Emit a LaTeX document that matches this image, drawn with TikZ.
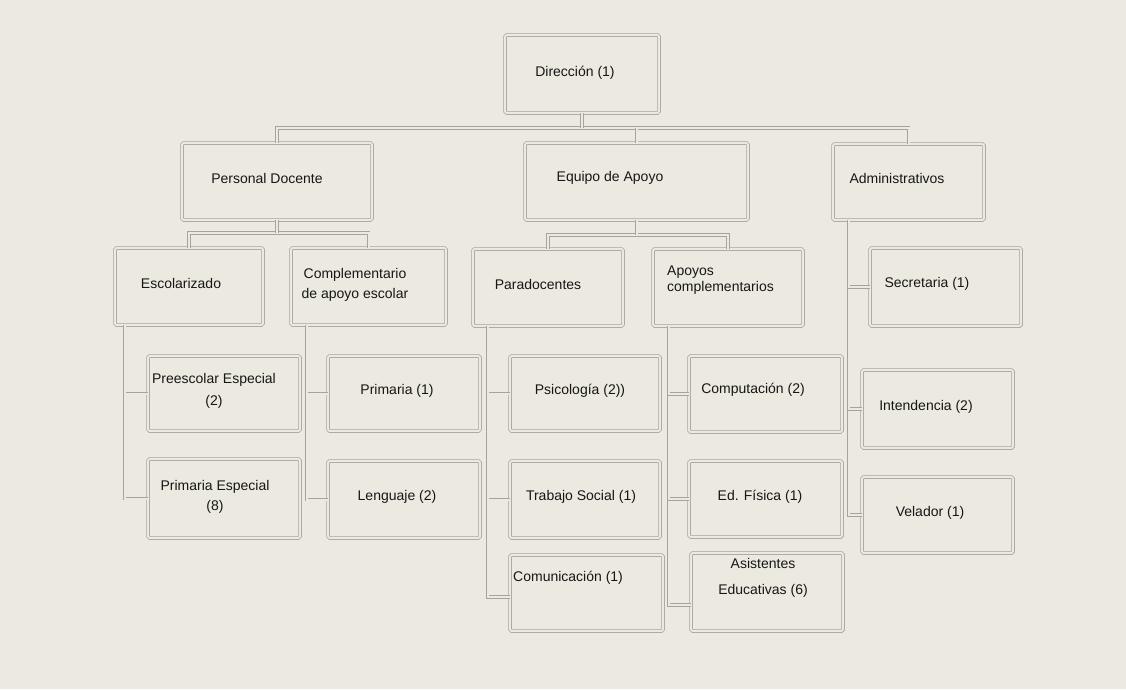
\documentclass[tikz,border=0pt]{standalone}
\usepackage{fontspec}
\setmainfont{Liberation Sans}
\definecolor{bgc}{RGB}{236,233,224}
\definecolor{linec}{RGB}{166,163,154}
\definecolor{txtc}{RGB}{22,22,22}
\begin{document}
\begin{tikzpicture}[x=1pt,y=-1pt,
  box/.style={draw=linec, double=bgc, double distance=2pt, line width=0.75pt,
              rounded corners=1.5pt, inner sep=0pt},
  conn/.style={draw=linec, double=bgc, double distance=2pt, line width=0.75pt},
  lbl/.style={font=\fontsize{14}{16.5}\selectfont, text=txtc, align=center, inner sep=0pt}]

% canvas
\fill[bgc] (0,0) rectangle (1126,689);
\useasboundingbox (0,0) rectangle (1126,689);

% ---- boxes ----
\node[box, minimum width=154pt, minimum height=78pt] (dir)  at (582,74)    {};
\node[box, minimum width=190pt, minimum height=77pt] (pd)   at (277,181.5) {};
\node[box, minimum width=223pt, minimum height=77pt] (eq)   at (636.5,181.5) {};
\node[box, minimum width=151pt, minimum height=76pt] (adm)  at (908.5,182) {};

\node[box, minimum width=148pt, minimum height=77pt] (esc)  at (189,286.5) {};
\node[box, minimum width=155pt, minimum height=77pt] (comp) at (368.5,286.5) {};
\node[box, minimum width=150pt, minimum height=77pt] (para) at (548,287.5) {};
\node[box, minimum width=150pt, minimum height=77pt] (apo)  at (728,287.5) {};
\node[box, minimum width=151pt, minimum height=78pt] (sec)  at (945.5,287) {};

\node[box, minimum width=152pt, minimum height=75pt] (pre)  at (224,393.5) {};
\node[box, minimum width=152pt, minimum height=75pt] (prim) at (404,393.5) {};
\node[box, minimum width=150pt, minimum height=75pt] (psi)  at (585,393.5) {};
\node[box, minimum width=153pt, minimum height=76pt] (cmp)  at (765.5,394) {};
\node[box, minimum width=151pt, minimum height=78pt] (int)  at (937.5,409) {};

\node[box, minimum width=152pt, minimum height=79pt] (pe)   at (224,498.5) {};
\node[box, minimum width=152pt, minimum height=77pt] (len)  at (404,499.5) {};
\node[box, minimum width=150pt, minimum height=77pt] (ts)   at (585,499.5) {};
\node[box, minimum width=153pt, minimum height=76pt] (ef)   at (765.5,499) {};
\node[box, minimum width=151pt, minimum height=76pt] (vel)  at (937.5,515) {};

\node[box, minimum width=153pt, minimum height=76pt] (com)  at (586.5,593) {};
\node[box, minimum width=152pt, minimum height=78pt] (ae)   at (767,592) {};

% ---- connectors ----
\coordinate (bus1) at (0,128);
\coordinate (bus2) at (0,233);
\coordinate (bus3) at (0,235);

\draw[conn] (pd.north) |- (adm.north |- bus1) -- (adm.north);
\draw[conn] (dir.south) -- (dir.south |- bus1);
\draw[conn] (eq.north) -- (eq.north |- bus1);

\draw[conn] (esc.north) |- (comp.north |- bus2) -- (comp.north);
\draw[conn] (pd.south) -- (pd.south |- bus2);

\draw[conn] (para.north) |- (apo.north |- bus3) -- (apo.north);
\draw[conn] (eq.south) -- (eq.south |- bus3);

\draw[conn] ([xshift=10pt]esc.south west) |- (pe.west);
\draw[conn] ([xshift=10pt]esc.south west) |- (pre.west);

\draw[conn] ([xshift=16pt]comp.south west) |- (len.west);
\draw[conn] ([xshift=16pt]comp.south west) |- (prim.west);

\draw[conn] ([xshift=15pt]para.south west) |- ([yshift=-4pt]com.west);
\draw[conn] ([xshift=15pt]para.south west) |- (ts.west);
\draw[conn] ([xshift=15pt]para.south west) |- (psi.west);

\draw[conn] ([xshift=16pt]apo.south west) |- ([yshift=-13pt]ae.west);
\draw[conn] ([xshift=16pt]apo.south west) |- (ef.west);
\draw[conn] ([xshift=16pt]apo.south west) |- (cmp.west);

\draw[conn] ([xshift=16pt]adm.south west) |- (vel.west);
\draw[conn] ([xshift=16pt]adm.south west) |- (int.west);
\draw[conn] ([xshift=16pt]adm.south west) |- (sec.west);

% ---- labels ----
\node[lbl] (tdir)  at (575,73)  {Dirección (1)};
\node[lbl] (tpd)   at (267,178) {Personal Docente};
\node[lbl] (teq)   at (610,178) {Equipo de Apoyo};
\node[lbl] (tadm)  at (897,178) {Administrativos};

\node[lbl] (tesc)  at (181,283) {Escolarizado};
\node[lbl] (tcomp) at (355,285) {Complementario\\[4pt]de apoyo escolar};
\node[lbl] (tpara) at (538,284) {Paradocentes};
\node[lbl, anchor=west, align=left] (tapo) at (667,280) {Apoyos\\complementarios};
\node[lbl] (tsec)  at (927,284) {Secretaria (1)};

\node[lbl] (tpre)  at (214,391) {Preescolar Especial\\[5pt](2)};
\node[lbl] (tprim) at (397,391) {Primaria (1)};
\node[lbl] (tpsi)  at (580,391) {Psicología (2))};
\node[lbl] (tcmp)  at (753,390) {Computación (2)};
\node[lbl] (tint)  at (926,407) {Intendencia (2)};

\node[lbl] (tpe)   at (215,497) {Primaria Especial\\[3pt](8)};
\node[lbl] (tlen)  at (397,497) {Lenguaje (2)};
\node[lbl] (tts)   at (581,497) {Trabajo Social (1)};
\node[lbl] (tef)   at (760,497) {Ed. Física (1)};
\node[lbl] (tvel)  at (930,513) {Velador (1)};

\node[lbl, anchor=west] (tcom) at (513,578) {Comunicación (1)};
\node[lbl] (tae)   at (763,578) {Asistentes\\[10pt]Educativas (6)};

\end{tikzpicture}
\end{document}
